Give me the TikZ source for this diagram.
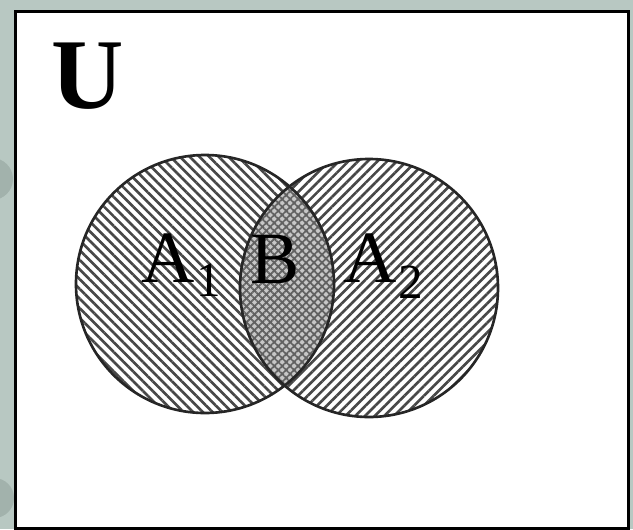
\documentclass[tikz,border=0pt]{standalone}
\usepackage{fontspec}
\setmainfont{Liberation Serif}
\usetikzlibrary{patterns.meta}
\definecolor{bgc}{HTML}{B8C8C2}
\definecolor{decc}{HTML}{A2B2AC}
\begin{document}
\begin{tikzpicture}[x=0.02cm,y=-0.02cm,
  outline/.style={draw=black!85, line width=1.5pt},
  frame/.style={draw=black, line width=1.7pt, fill=white},
  lbl/.style={inner sep=0pt, anchor=base west, font=\fontsize{42}{42}\selectfont},
  hatchL/.style={pattern={Lines[angle=-45,distance=3.9pt,line width=1.5pt]}, pattern color=black!72},
  hatchR/.style={pattern={Lines[angle=45,distance=3.9pt,line width=1.5pt]}, pattern color=black!72},
  lensfill/.style={fill=black!22},
  lenspat/.style={pattern={Hatch[angle=45,distance=3.2pt,line width=1pt]}, pattern color=black!62}]
\useasboundingbox (0,0) rectangle (633,529);
\fill[bgc] (0,0) rectangle (633,529);
\fill[decc] (-8,179) circle (21);
\fill[decc] (-6,498) circle (20);
\draw[frame] (15.5,11) rectangle (628.5,528);
\coordinate (cl) at (205,284);
\coordinate (cr) at (369,288);
% hatched discs
\fill[hatchL] (cl) circle (129);
\fill[hatchR] (cr) circle (129);
% lens
\begin{scope}
  \clip (cl) circle (129);
  \fill[white] (cr) circle (129);
  \fill[lensfill] (cr) circle (129);
  \fill[lenspat] (cr) circle (129);
\end{scope}
\draw[outline] (cl) circle (129);
\draw[outline] (cr) circle (129);
% labels
\node[inner sep=0pt, anchor=base west, font=\fontsize{57}{57}\selectfont\bfseries] (u) at (51,108) {U};
\node[lbl] (a1) at (141,282) {A\kern1pt\raisebox{-8.5pt}{\fontsize{28}{28}\selectfont 1}};
\node[lbl] (b) at (250,283) {B};
\node[lbl] (a2) at (343,282) {A\kern1pt\raisebox{-9.5pt}{\fontsize{28}{28}\selectfont 2}};
\end{tikzpicture}
\end{document}
